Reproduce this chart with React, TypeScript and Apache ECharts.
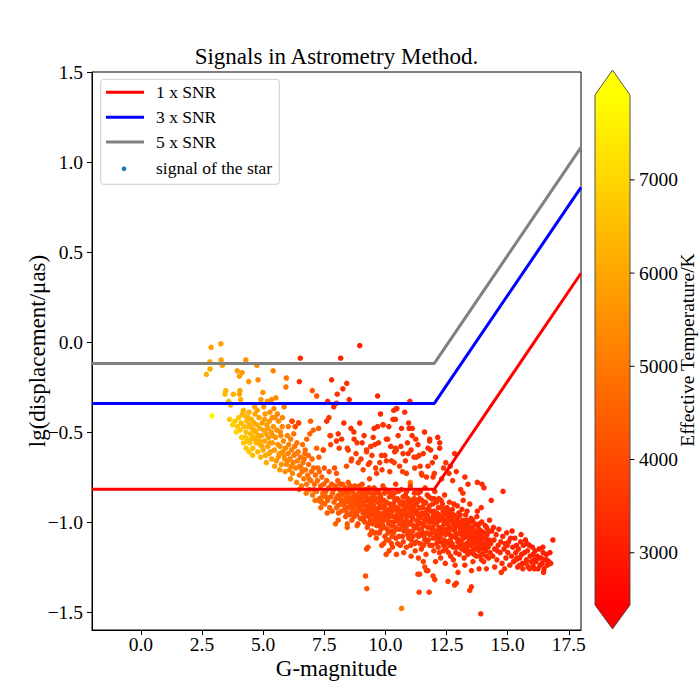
import React, { useEffect, useRef } from "react";
import * as echarts from "echarts";

// ---------- data ----------
// x: G-magnitude, y: lg(displacement/μas), third value: effective temperature (K)
const xTicks = [0, 2.5, 5, 7.5, 10, 12.5, 15, 17.5];
const yTicks = [-1.5, -1.0, -0.5, 0.0, 0.5, 1.0, 1.5];
const tempTicks = [3000, 4000, 5000, 6000, 7000];
const tempMin = 2440;
const tempMax = 7910;

// SNR threshold lines (knee at G = 12)
const lineG = [-2, 12, 18];
const snr1 = [-0.818, -0.818, 0.382];
const snr3 = [-0.341, -0.341, 0.859];
const snr5 = [-0.119, -0.119, 1.081];

const brightBand = [
  [2.87,-0.03,5900],[3.27,-0.01,5800],[2.82,-0.11,6100],[3.28,-0.10,5900],[3.33,-0.13,5900],[2.83,-0.15,6200],[2.68,-0.18,6300],[2.90,-0.41,7700],
  [3.47,-0.27,6300],[3.44,-0.29,6400],[3.59,-0.33,6300],[3.67,-0.35,6200],[3.78,-0.29,6100],[4.05,-0.27,6000],[4.03,-0.29,6000],[4.08,-0.32,6100],[3.63,-0.43,6700],[3.94,-0.16,5800],[4.14,-0.17,5700],[4.03,-0.19,5800],[4.29,-0.10,5600],[4.41,-0.22,5700],[4.74,-0.13,5400],[4.79,-0.21,5500],
  [3.75,-0.46,6900],[3.85,-0.44,6800],[3.95,-0.47,6700],[3.90,-0.50,7000],[4.00,-0.42,6600],[4.05,-0.49,6700],[4.10,-0.45,6500],[4.12,-0.53,6800],[4.19,-0.38,6200],[4.22,-0.47,6500],[4.25,-0.41,6300],[4.30,-0.50,6600],[4.33,-0.44,6400],[4.35,-0.55,6700],[4.40,-0.47,6400],[4.42,-0.39,6200],[4.46,-0.56,6600],[4.48,-0.51,6400],[4.52,-0.43,6200],[4.55,-0.48,6300],[4.58,-0.59,6500],[4.60,-0.53,6300],[4.63,-0.45,6100],[4.67,-0.40,6000],[4.70,-0.50,6200],[4.72,-0.56,6300],[4.75,-0.46,6100],[4.78,-0.61,6400],[4.80,-0.52,6200],[4.83,-0.42,5900],[4.86,-0.48,6000],[4.88,-0.57,6200],[4.91,-0.32,5700],[4.93,-0.52,6000],[4.96,-0.45,5900],[4.99,-0.28,5600],[5.00,-0.60,6100],[5.03,-0.49,5900],[5.06,-0.55,6000],[5.08,-0.40,5800],[5.10,-0.63,6100],[5.12,-0.51,5900],[5.15,-0.46,5800],[5.17,-0.33,5600],[5.19,-0.58,5900],[5.22,-0.53,5800],[5.25,-0.44,5700],[5.28,-0.39,5600],[5.30,-0.61,5900],[5.33,-0.50,5700],[5.35,-0.32,5500],[5.35,-0.65,5900],[5.38,-0.56,5700],[5.41,-0.16,5200],[5.42,-0.47,5600],[5.44,-0.37,5400],[5.46,-0.60,5700],[5.50,-0.53,5600],[5.52,-0.31,5400],[5.54,-0.66,5700],[5.57,-0.49,5500],[5.60,-0.57,5600],[5.63,-0.44,5400],[5.66,-0.62,5600],[5.69,-0.58,5500],[5.72,-0.52,5400],[5.75,-0.68,5600],[5.78,-0.47,5300],[5.80,-0.61,5500],[5.83,-0.55,5400],[5.86,-0.36,5200],[5.88,-0.65,5400],[5.91,-0.59,5400],[5.93,-0.25,5000],[5.95,-0.20,4900],[5.96,-0.68,5400],[5.99,-0.52,5200],[6.02,-0.62,5300],[6.05,-0.57,5200],[6.08,-0.71,5400],[6.10,-0.65,5300],[6.13,-0.54,5100],[6.16,-0.60,5200],[6.18,-0.44,4900],[6.20,-0.73,5300],[6.23,-0.67,5200],[6.26,-0.63,5100],[6.29,-0.58,5000],[6.31,-0.47,4900],[6.33,-0.70,5200],[6.37,-0.78,5300],[6.40,-0.66,5100],[6.43,-0.61,5000],[6.45,-0.45,4800],[6.48,-0.74,5100],[6.50,-0.69,5000],[6.53,-0.64,4900],[6.57,-0.80,5100],[6.60,-0.72,5000],[6.63,-0.67,4900],[6.66,-0.76,5000],[6.70,-0.62,4800],[6.72,-0.60,4700],[6.74,-0.71,4900],[6.78,-0.54,4700],[6.78,-0.79,5000],[6.82,-0.74,4900],[6.86,-0.68,4800],[6.90,-0.82,4900],[6.91,-0.51,4600],[6.94,-0.44,4500],[6.95,-0.77,4800],[6.98,-0.72,4700],[7.01,-0.27,4400],[7.02,-0.85,4900],[7.05,-0.49,4500],[7.06,-0.70,4700],[7.10,-0.79,4800],[7.14,-0.74,4700],[7.18,-0.83,4800],[7.19,-0.30,4300],[7.19,-0.59,4500],[7.22,-0.77,4700],[7.27,-0.48,4400],[7.26,-0.88,4800],[7.30,-0.72,4600],[7.32,-0.87,4700],[7.35,-0.80,4600],[7.39,-0.89,4700],[7.40,-0.75,4500],[7.44,-0.84,4600],[7.46,-0.60,4400],[7.48,-0.79,4500],[7.52,-0.90,4600],[7.56,-0.83,4500],[7.60,-0.77,4400],[7.64,-0.88,4500],[7.68,-0.81,4400],[7.72,-0.92,4500],[7.76,-0.86,4400],[7.80,-0.79,4300],
  [4.15,-0.40,6300],[4.28,-0.53,6700],[4.38,-0.42,6300],[4.45,-0.46,6300],[4.50,-0.54,6500],[4.62,-0.49,6200],[4.68,-0.54,6300],[4.85,-0.55,6200],[4.95,-0.58,6100],[5.05,-0.43,5800],[5.20,-0.48,5800],[5.27,-0.56,5800],[5.40,-0.52,5700],[5.48,-0.42,5500],[5.62,-0.64,5700],[5.70,-0.50,5400],[5.85,-0.63,5500],[6.00,-0.66,5400],[6.15,-0.69,5300],[6.35,-0.62,5100],[6.55,-0.70,5000],[6.68,-0.65,4900],[6.88,-0.76,4900],[7.08,-0.82,4800],[7.24,-0.70,4600],[7.42,-0.86,4700],[7.58,-0.86,4500],
  [4.20,-0.56,6700],[4.31,-0.59,6800],[4.43,-0.61,6700],[4.57,-0.63,6600],[4.65,-0.36,6000],[4.76,-0.38,5900],[4.90,-0.64,6300],[5.02,-0.36,5700],[5.13,-0.67,6100],[5.24,-0.62,6000],[5.37,-0.42,5500],[5.47,-0.69,5900],[5.58,-0.40,5300],[5.68,-0.71,5700],[5.79,-0.42,5200],[5.90,-0.72,5500],[6.03,-0.47,5000],[6.12,-0.76,5400],[6.25,-0.51,4900],[6.38,-0.56,4900],[6.47,-0.82,5200],[6.61,-0.57,4800],[6.76,-0.84,5000],[6.85,-0.63,4700],[7.00,-0.65,4600],[7.12,-0.88,4800],[7.28,-0.64,4500],[7.36,-0.92,4700],[7.50,-0.70,4400],[7.62,-0.95,4500],[7.70,-0.72,4300],[7.82,-0.94,4400],[7.92,-0.70,4200],[8.07,-0.99,4300],
];

const upperScatter = [
  [6.52,-0.09,3300],[8.17,-0.09,3200],[8.95,-0.02,3100],[7.80,-0.21,3300],[8.42,-0.23,3400],[8.26,-0.26,3300],[8.03,-0.29,3400],[6.48,-0.22,3400],[7.64,-0.33,3500],[7.89,-0.36,3500],[8.00,-0.34,3600],[8.52,-0.32,3300],[9.68,-0.30,3300],[10.45,-0.37,3400],[7.60,-0.44,3500],[7.69,-0.42,3600],[6.18,-0.44,4000],[6.31,-0.47,4100],[6.45,-0.45,3900],[8.30,-0.45,3400],[8.07,-0.51,3500],[8.00,-0.55,3600],[7.76,-0.52,3700],[8.21,-0.54,3500],[8.59,-0.48,3400],[8.71,-0.50,3500],[9.05,-0.56,3500],[9.54,-0.48,3400],[9.68,-0.47,3400],[9.91,-0.46,3300],[10.31,-0.43,3400],[9.50,-0.53,3500],[9.23,-0.60,3600],[8.72,-0.54,3500],[8.44,-0.59,3700],[8.11,-0.59,3800],[7.76,-0.57,3900],[7.46,-0.60,4100],
  [11.00,-0.33,3300],[10.34,-0.38,3500],[10.47,-0.37,3400],[10.79,-0.39,3400],[10.41,-0.43,3500],[9.90,-0.46,3500],[10.66,-0.48,3400],[10.97,-0.48,3300],[11.10,-0.48,3400],[10.09,-0.54,3500],[11.09,-0.52,3400],[11.24,-0.54,3500],[11.81,-0.55,3400],[12.14,-0.53,3300],[12.22,-0.56,3300],[12.22,-0.59,3400],[11.85,-0.60,3500],[11.74,-0.59,3400],[10.63,-0.58,3500],[10.41,-0.59,3600],[10.38,-0.61,3500],[10.72,-0.62,3600],[10.93,-0.62,3500],[11.17,-0.64,3600],[11.38,-0.63,3500],[9.84,-0.63,3600],[10.04,-0.66,3700],[10.25,-0.66,3600],[10.36,-0.67,3700],[11.20,-0.70,3700],[11.74,-0.69,3600],[11.92,-0.67,3500],[12.47,-0.67,3500],[12.65,-0.69,3500],[12.83,-0.62,3400],[12.60,-0.73,3500],[13.38,-0.79,3400],[13.76,-0.78,3400],[13.95,-0.79,3400],[14.03,-0.81,3300],[13.08,-0.82,3500],[13.17,-0.84,3500],[14.81,-0.83,3300],[14.33,-0.88,3300],[13.92,-0.92,3400],[13.76,-0.94,3400],[13.45,-0.90,3500],
  [9.00,-0.65,3700],[9.30,-0.68,3800],[8.80,-0.62,3700],[9.60,-0.70,3800],[10.70,-0.72,3800],[11.50,-0.74,3700],[12.00,-0.73,3600],[12.30,-0.76,3600],[12.90,-0.72,3500],[8.60,-0.66,3900],[9.40,-0.58,3600],[10.90,-0.56,3500],[11.60,-0.50,3400],
  [7.73,-0.52,3900],[8.84,-0.56,3600],[9.57,-0.57,3600],[10.04,-0.54,3500],[10.45,-0.60,3600],[11.27,-0.64,3600],[11.81,-0.54,3400],[9.36,-0.67,3700],[9.77,-0.67,3700],[9.98,-0.63,3600],[9.23,-0.61,3700],[8.48,-0.60,3800],[8.62,-0.65,3900],[8.89,-0.67,3900],[9.09,-0.71,3900],[9.64,-0.73,3800],[10.18,-0.72,3800],[10.86,-0.73,3700],[11.47,-0.73,3700],[11.95,-0.75,3600],[8.00,-0.73,4300],[8.41,-0.69,4100],[11.02,-0.78,5000],
  [9.13,-0.52,3500],[9.45,-0.63,3600],[9.72,-0.56,3500],[9.86,-0.71,3700],[10.14,-0.47,3400],[10.22,-0.58,3500],[10.52,-0.52,3500],[10.58,-0.69,3700],[10.82,-0.66,3600],[11.05,-0.60,3500],[11.33,-0.57,3500],[11.42,-0.69,3600],[11.55,-0.62,3500],[11.68,-0.75,3700],[12.05,-0.64,3500],[12.38,-0.70,3500],[12.75,-0.77,3500],[13.25,-0.75,3400],[9.80,-0.40,3300],[10.95,-0.45,3300],[8.95,-0.45,3400],[9.35,-0.76,3900],
];

const mainCloud = [
  [8.05,-0.77,4500],[8.12,-0.82,4400],[8.02,-0.86,4500],[8.18,-0.90,4400],[8.08,-0.95,4300],[8.25,-0.79,4400],[8.30,-0.85,4400],[8.22,-0.88,4300],[8.35,-0.93,4300],[8.38,-0.81,4300],
  [8.45,-0.84,4300],[8.50,-0.89,4200],[8.48,-0.78,4300],[8.55,-0.96,4200],[8.60,-0.82,4200],[8.66,-0.87,4300],[8.70,-0.92,4200],[8.63,-0.99,4200],[8.75,-0.80,4100],[8.80,-0.85,4200],[8.84,-0.90,4100],[8.78,-0.95,4200],[8.88,-1.01,4100],
  [8.93,-0.83,4100],[8.98,-0.88,4100],[9.02,-0.93,4000],[9.05,-0.79,4000],[9.10,-0.86,4100],[9.14,-0.97,4000],[9.18,-0.91,4000],[9.22,-0.82,4000],[9.26,-1.03,4100],[9.30,-0.88,4000],[9.34,-0.94,4000],[9.38,-0.99,3900],[9.42,-0.84,3900],[9.46,-0.90,4000],[9.29,-1.14,4100],[9.23,-1.15,4000],
  [9.50,-0.96,4000],[9.54,-0.81,3900],[9.58,-1.06,4000],[9.62,-0.87,3900],[9.66,-0.93,4000],[9.70,-1.00,3900],[9.74,-0.84,3900],[9.78,-0.90,4000],[9.82,-1.04,3900],[9.86,-0.96,4000],[9.90,-0.80,3800],[9.94,-0.88,3900],[9.98,-1.08,3900],[10.02,-0.93,3900],[10.06,-0.99,4000],[10.03,-1.18,4000],
  [10.10,-0.83,3800],[10.14,-1.10,3900],[10.18,-0.90,3900],[10.22,-0.96,3900],[10.26,-1.02,3800],[10.30,-0.86,3800],[10.34,-1.06,3900],[10.38,-0.93,3900],[10.42,-0.79,3700],[10.46,-0.99,3800],[10.50,-1.12,3900],[10.54,-0.88,3800],[10.58,-1.04,3800],[10.62,-0.95,3900],[10.66,-0.82,3700],[10.70,-1.08,3800],
  [10.74,-0.91,3800],[10.78,-1.00,3800],[10.82,-0.85,3700],[10.86,-1.14,3900],[10.90,-0.97,3800],[10.94,-1.05,3800],[10.98,-0.89,3700],[11.02,-0.80,3700],[11.06,-1.10,3800],[11.10,-0.94,3800],[11.14,-1.02,3700],[11.18,-0.87,3700],[11.22,-1.16,3800],[11.26,-0.99,3800],[11.30,-1.07,3700],
  [11.34,-0.84,3600],[11.38,-0.92,3700],[11.42,-1.12,3800],[11.46,-1.01,3700],[11.50,-0.88,3600],[11.54,-0.96,3700],[11.58,-1.08,3700],[11.62,-0.81,3600],[11.66,-1.18,3800],[11.70,-0.93,3700],[11.74,-1.03,3600],[11.78,-0.86,3600],[11.82,-1.13,3700],[11.86,-0.98,3700],[11.90,-1.06,3600],
  [11.94,-0.90,3600],[11.98,-1.16,3700],[12.02,-0.83,3500],[12.06,-1.01,3600],[12.10,-0.95,3600],[12.14,-1.10,3700],[12.18,-0.87,3500],[12.22,-1.04,3600],[12.26,-1.20,3700],[12.30,-0.92,3600],[12.34,-0.98,3600],[12.38,-1.13,3600],[12.42,-0.85,3500],[12.46,-1.07,3600],
  [12.50,-0.96,3600],[12.54,-1.01,3500],[12.58,-1.17,3600],[12.62,-0.89,3500],[12.66,-1.10,3600],[12.70,-1.04,3500],[12.74,-0.93,3500],[12.78,-1.21,3600],[12.82,-0.99,3500],[12.86,-1.14,3600],[12.90,-1.07,3500],[12.94,-0.91,3500],[12.98,-1.02,3500],[13.02,-1.18,3600],
  [13.06,-0.96,3500],[13.10,-1.11,3500],[13.14,-1.05,3500],[13.18,-0.88,3400],[13.22,-1.20,3600],[13.26,-1.00,3500],[13.30,-1.14,3500],[13.34,-0.94,3400],[13.38,-1.08,3500],[13.42,-1.03,3500],[13.46,-1.17,3500],[13.50,-0.98,3400],[13.54,-1.12,3500],[13.58,-1.22,3600],[13.62,-1.06,3400],
  [13.66,-1.01,3400],[13.70,-1.15,3500],[13.74,-0.97,3400],[13.78,-1.10,3400],[13.82,-1.04,3400],[13.86,-1.19,3500],[13.90,-1.08,3400],[13.94,-1.00,3400],[13.98,-1.13,3400],[14.02,-1.22,3500],[14.06,-1.06,3400],[14.10,-1.16,3400],[14.14,-1.03,3300],[14.18,-1.11,3400],[14.22,-1.20,3400],[14.26,-0.99,3300],
];

const faintTail = [
  [14.31,-1.12,3400],[14.35,-1.05,3300],[14.39,-1.19,3400],[14.44,-1.10,3300],[14.47,-1.15,3300],[14.53,-1.07,3300],[14.56,-1.21,3400],[14.61,-1.13,3300],[14.64,-1.04,3300],[14.69,-1.17,3300],[14.72,-1.11,3300],[14.77,-1.23,3400],[14.80,-1.08,3300],[14.85,-1.15,3300],[14.89,-1.12,3300],[14.93,-1.20,3300],[14.96,-1.06,3300],[15.01,-1.17,3300],[15.04,-1.11,3300],[15.09,-1.24,3300],[15.12,-1.09,3200],[15.16,-1.19,3300],[15.21,-1.14,3200],[15.24,-1.22,3300],[15.29,-1.09,3200],[15.33,-1.17,3200],[15.36,-1.13,3200],[15.41,-1.25,3300],[15.44,-1.15,3200],[15.49,-1.20,3200],[15.53,-1.11,3200],[15.57,-1.18,3200],[15.61,-1.23,3200],[15.64,-1.13,3200],[15.69,-1.17,3200],[15.73,-1.10,3100],[15.77,-1.21,3200],[15.81,-1.16,3200],[15.84,-1.25,3200],[15.89,-1.13,3100],[15.92,-1.19,3200],[15.97,-1.22,3200],[16.01,-1.14,3100],[16.04,-1.18,3100],[16.08,-1.21,3200],[16.12,-1.16,3100],[16.16,-1.22,3100],[16.21,-1.19,3100],[16.24,-1.26,3200],[16.29,-1.15,3100],[16.33,-1.24,3100],[16.37,-1.20,3100],[16.41,-1.23,3100],[16.45,-1.17,3100],[16.49,-1.26,3100],[16.53,-1.21,3100],[16.58,-1.18,3100],[16.62,-1.24,3100],[16.68,-1.22,3100],[16.73,-1.17,3100],
  [14.42,-1.03,3300],[14.58,-1.16,3300],[14.98,-1.13,3300],[15.18,-1.05,3200],[15.38,-1.20,3200],[15.55,-1.07,3200],[15.79,-1.12,3100],[16.05,-1.25,3100],[16.27,-1.20,3100],[16.44,-1.14,3100],[16.60,-1.21,3100],[16.85,-1.10,3100],[16.76,-1.23,3100],
];

const coreFill = [
  [7.84,-0.84,4500],[7.90,-0.89,4500],[7.96,-0.80,4400],[8.00,-0.92,4500],[8.10,-0.85,4400],[8.15,-0.79,4300],[8.20,-0.94,4400],[8.28,-0.82,4300],[8.33,-0.89,4300],[8.40,-0.87,4300],[8.43,-0.95,4300],[8.56,-0.80,4200],[8.62,-0.90,4200],
  [8.52,-0.86,4300],[8.58,-0.92,4200],[8.68,-0.84,4200],[8.72,-0.97,4100],[8.82,-0.88,4100],[8.86,-0.94,4100],[8.95,-0.86,4100],[8.97,-0.98,4000],[9.04,-0.89,4000],[9.08,-0.95,4100],[9.12,-0.82,4000],[9.16,-1.00,4000],[9.20,-0.88,3900],[9.24,-0.95,4000],[9.28,-0.84,3900],[9.32,-1.01,4000],[9.36,-0.90,3900],[9.40,-0.96,3900],[9.44,-1.05,4000],[9.48,-0.86,3900],[9.52,-0.91,3900],[9.56,-0.98,4000],[9.60,-0.84,3800],[9.64,-1.02,3900],[9.68,-0.89,3900],[9.72,-0.95,3900],[9.76,-1.06,3900],[9.80,-0.86,3800],[9.84,-0.92,3900],[9.88,-1.01,3900],[9.92,-0.95,3800],[9.96,-0.84,3800],[10.00,-0.98,3900],[10.04,-0.89,3800],[10.08,-1.04,3900],[10.12,-0.94,3800],[10.16,-0.86,3800],[10.20,-1.00,3800],[10.24,-0.91,3800],[10.28,-1.08,3900],[10.32,-0.97,3800],[10.36,-0.84,3700],[10.40,-1.03,3800],[10.44,-0.92,3800],[10.48,-0.87,3700],[10.52,-0.98,3800],[10.56,-1.08,3800],[10.60,-0.90,3700],[10.64,-1.01,3800],[10.68,-0.94,3800],[10.72,-0.86,3700],[10.76,-1.05,3800],[10.80,-0.96,3700],[10.84,-0.90,3700],[10.88,-1.02,3800],[10.92,-0.87,3700],[10.96,-1.09,3800],[11.00,-0.95,3700],[11.04,-1.00,3700],[11.08,-0.88,3600],[11.12,-1.05,3700],[11.16,-0.93,3700],[11.20,-1.12,3800],[11.24,-0.90,3600],[11.28,-1.02,3700],[11.32,-0.96,3700],[11.36,-1.08,3700],[11.40,-0.87,3600],[11.44,-0.97,3600],[11.48,-1.04,3700],[11.52,-0.92,3600],[11.56,-1.13,3700],[11.60,-0.99,3600],[11.64,-0.89,3600],[11.68,-1.06,3700],[11.72,-0.96,3600],[11.76,-1.10,3700],[11.80,-0.91,3600],[11.84,-1.03,3600],[11.88,-0.87,3500],[11.92,-0.99,3600],[11.96,-1.09,3600],[12.00,-0.94,3600],[12.04,-1.05,3600],[12.08,-0.89,3500],[12.12,-1.00,3600],[12.16,-1.14,3600],[12.20,-0.96,3500],[12.24,-1.08,3600],[12.28,-0.88,3500],[12.32,-1.03,3600],[12.36,-0.94,3500],[12.40,-1.10,3600],[12.44,-0.99,3500],[12.48,-1.15,3600],[12.52,-0.92,3500],[12.56,-1.06,3500],[12.60,-0.98,3500],[12.64,-1.13,3600],[12.68,-0.95,3500],[12.72,-1.08,3500],[12.76,-1.01,3500],[12.80,-0.90,3400],[12.84,-1.05,3500],[12.88,-1.17,3500],[12.92,-0.98,3500],[12.96,-1.11,3500],[13.00,-0.95,3400],[13.04,-1.06,3500],[13.08,-1.01,3400],[13.12,-1.15,3500],[13.16,-0.99,3400],[13.20,-1.09,3500],[13.24,-1.04,3400],[13.28,-0.96,3400],[13.32,-1.12,3500],[13.36,-1.02,3400],[13.40,-1.16,3500],[13.44,-1.06,3400],[13.48,-1.00,3400],[13.52,-1.09,3400],[13.56,-1.03,3400],[13.60,-1.15,3400],[13.64,-1.10,3400],[13.68,-1.05,3400],[13.72,-1.19,3500],[13.76,-1.07,3400],[13.80,-1.12,3400],[13.84,-1.01,3300],[13.88,-1.14,3400],[13.92,-1.05,3300],[13.96,-1.18,3400],[14.00,-1.09,3400],[14.04,-1.12,3400],[14.08,-1.02,3300],[14.12,-1.19,3400],[14.16,-1.07,3300],[14.20,-1.14,3300],[14.24,-1.10,3300],[14.28,-1.17,3300],
];

const coreExtra = [
  [8.37,-0.97,4300],[8.53,-0.83,4300],[8.64,-0.94,4200],[8.71,-0.81,4200],[8.77,-0.89,4100],[8.91,-0.92,4100],[8.94,-0.80,4000],[9.07,-0.84,4000],[9.11,-0.99,4000],[9.19,-0.86,4000],[9.27,-0.92,3900],[9.33,-0.81,3900],[9.37,-1.07,4000],[9.43,-0.93,3900],[9.49,-1.01,3900],[9.53,-0.88,3900],[9.61,-0.95,3900],[9.63,-1.09,4000],[9.69,-0.83,3800],[9.73,-0.98,3900],[9.79,-1.02,3900],[9.83,-0.88,3800],[9.89,-0.99,3900],[9.93,-1.12,3900],[9.97,-0.91,3800],[10.01,-0.82,3800],[10.07,-0.95,3800],[10.11,-1.06,3900],[10.17,-0.97,3800],[10.21,-0.84,3700],[10.27,-0.94,3800],[10.29,-1.14,3900],[10.35,-1.00,3800],[10.39,-0.88,3800],[10.43,-1.09,3800],[10.49,-0.95,3800],[10.53,-0.83,3700],[10.57,-1.01,3800],[10.61,-1.13,3800],[10.67,-0.97,3700],[10.69,-0.89,3700],[10.73,-1.11,3800],[10.79,-0.93,3700],[10.81,-1.03,3800],[10.87,-0.83,3600],[10.91,-1.07,3800],[10.95,-0.92,3700],[10.99,-1.01,3700],[11.03,-1.13,3800],[11.07,-0.91,3700],[11.11,-0.98,3700],[11.13,-1.08,3700],[11.19,-0.84,3600],[11.23,-0.95,3600],[11.27,-1.11,3700],[11.31,-0.89,3600],[11.37,-1.04,3700],[11.39,-0.98,3600],[11.43,-0.83,3500],[11.47,-1.15,3700],[11.51,-1.06,3600],[11.57,-0.90,3600],[11.59,-1.02,3600],[11.63,-0.95,3600],[11.69,-1.11,3700],[11.71,-0.85,3500],[11.77,-1.00,3600],[11.81,-1.07,3600],[11.87,-0.94,3500],[11.91,-1.13,3600],[11.93,-1.03,3600],[11.99,-0.87,3500],[12.03,-0.97,3500],[12.09,-1.12,3600],[12.11,-1.06,3600],[12.17,-0.92,3500],[12.21,-1.17,3600],[12.23,-0.99,3500],[12.29,-1.06,3500],[12.33,-0.90,3500],[12.37,-1.16,3600],[12.39,-1.01,3500],[12.43,-0.93,3500],[12.49,-1.04,3500],[12.53,-1.11,3500],[12.57,-0.94,3500],[12.61,-1.03,3500],[12.67,-1.19,3500],[12.69,-0.99,3400],[12.73,-1.12,3500],[12.79,-0.96,3400],[12.83,-1.08,3500],[12.87,-1.02,3400],[12.93,-1.14,3500],[12.99,-0.97,3400],[13.03,-1.10,3400],[13.07,-1.04,3400],[13.13,-0.93,3400],[13.17,-1.13,3500],[13.21,-1.02,3400],[13.27,-1.07,3400],[13.31,-0.99,3400],[13.37,-1.18,3500],[13.39,-1.05,3400],[13.43,-1.11,3400],[13.49,-1.04,3400],[13.53,-1.17,3400],[13.57,-0.99,3300],[13.61,-1.12,3400],[13.67,-1.08,3400],[13.73,-1.13,3400],[13.77,-1.02,3300],[13.83,-1.16,3400],[13.87,-1.10,3300],[13.93,-1.21,3400],[13.97,-1.06,3300],
];

const denseFill = [
  [7.88,-0.82,4500],[7.98,-0.87,4400],[8.06,-0.91,4400],[8.14,-0.87,4300],[8.24,-0.84,4300],[8.32,-0.91,4300],[8.41,-0.83,4200],[8.47,-0.92,4200],[8.57,-0.88,4200],[8.67,-0.91,4100],[8.74,-0.86,4100],[8.83,-0.96,4100],[8.90,-0.87,4000],[9.00,-0.91,4000],[9.09,-0.89,4000],[9.17,-0.94,3900],[9.25,-0.87,3900],[9.31,-0.97,3900],[9.39,-0.87,3900],[9.47,-0.94,3900],[9.55,-0.92,3900],[9.59,-1.00,3900],[9.67,-0.97,3800],[9.75,-0.92,3800],[9.81,-0.98,3800],[9.87,-0.91,3800],[9.95,-1.03,3800],[10.05,-0.96,3800],[10.13,-1.01,3800],[10.19,-0.93,3800],[10.25,-1.05,3800],[10.33,-0.90,3700],[10.41,-0.97,3700],[10.47,-1.04,3800],[10.55,-0.93,3700],[10.63,-0.98,3700],[10.71,-1.02,3700],[10.77,-0.89,3700],[10.85,-0.99,3700],[10.93,-0.95,3700],[11.01,-1.06,3700],[11.09,-0.97,3600],[11.15,-0.91,3600],[11.21,-1.03,3600],[11.29,-0.94,3600],[11.35,-1.00,3600],[11.41,-1.07,3600],[11.49,-0.95,3600],[11.55,-1.01,3600],[11.61,-1.10,3600],[11.67,-0.98,3600],[11.75,-0.93,3500],[11.83,-1.06,3600],[11.89,-1.00,3500],[11.97,-0.96,3500],[12.07,-1.08,3500],[12.13,-0.98,3500],[12.19,-1.03,3500],[12.27,-1.11,3500],[12.35,-1.05,3500],[12.41,-0.96,3500],[12.47,-1.12,3500],[12.55,-0.99,3500],[12.63,-1.07,3500],[12.71,-0.97,3400],[12.77,-1.14,3500],[12.85,-1.03,3400],[12.91,-1.09,3400],[12.97,-1.00,3400],[13.05,-1.13,3400],[13.11,-1.07,3400],[13.19,-1.02,3400],[13.25,-1.16,3400],[13.33,-1.06,3400],[13.41,-1.09,3400],[13.47,-1.13,3400],[13.55,-1.07,3400],[13.63,-1.18,3400],[13.71,-1.09,3300],[13.79,-1.15,3300],[13.85,-1.06,3300],[13.91,-1.12,3300],[14.01,-1.15,3300],[14.09,-1.09,3300],[14.15,-1.13,3300],[14.23,-1.05,3300],
  [9.85,-1.13,3900],[10.15,-1.16,3900],[10.45,-1.18,3900],[10.75,-1.17,3800],[11.05,-1.19,3800],[11.35,-1.20,3800],[11.55,-1.22,3800],[12.05,-1.22,3700],[12.45,-1.23,3600],[12.85,-1.24,3600],[13.25,-1.24,3500],
];

const faintOutliers = [
  [9.19,-1.30,4200],[9.24,-1.37,4300],[10.66,-1.48,5000],[13.90,-1.51,3400],[7.96,-1.01,4500],[8.44,-1.01,4400],[8.44,-1.03,4300],[8.84,-1.02,4200],[9.57,-1.06,4100],[9.70,-1.06,4000],[10.04,-1.10,4000],[10.25,-1.12,3900],[11.33,-1.29,3800],[11.61,-1.25,3900],[11.68,-1.27,3800],[11.95,-1.30,3800],[12.02,-1.32,3700],[11.79,-1.39,3800],[11.38,-1.39,3900],[11.40,-1.29,3800],[11.74,-1.27,3800],[12.56,-1.33,3700],[12.97,-1.28,3600],[13.52,-1.27,3600],[13.52,-1.36,3500],[13.45,-1.38,3600],[12.90,-1.34,3600],[12.83,-1.35,3600],[13.83,-1.26,3500],[14.13,-1.26,3500],[14.47,-1.25,3500],[14.74,-1.28,3500],[14.87,-1.26,3400],[15.35,-1.21,3400],[15.49,-1.24,3400],[15.62,-1.26,3400],[15.76,-1.23,3400],[15.90,-1.26,3400],[16.03,-1.23,3300],[16.10,-1.26,3300],[16.47,-1.28,3300],[16.74,-1.23,3300],[7.39,-0.89,4600],[7.32,-0.87,4700],
];

// ---------- layout ----------
const FONT = '"Liberation Serif", "Times New Roman", Times, serif';
const GRID = { left: 92, right: 119, top: 72, bottom: 70 };
const CB = { x: 595, w: 35, top: 95, bottom: 605, tip: 25 };

const fmt = (v: number) => (v < 0 ? "\u2212" + Math.abs(v).toFixed(1) : v.toFixed(1));

function txt(x: number, y: number, text: string, size: number, align = "center", rotation = 0, z = 20) {
  return {
    type: "text",
    x,
    y,
    z,
    rotation,
    silent: true,
    style: {
      text,
      fill: "#000",
      font: `${size}px ${FONT}`,
      align,
      verticalAlign: "middle",
      textAlign: align,
      textVerticalAlign: "middle",
    },
  };
}

export default function App() {
  const ref = useRef<HTMLDivElement>(null);

  useEffect(() => {
    if (!ref.current) return;
    const chart = echarts.init(ref.current, undefined, { renderer: "svg" });

    const stars = [
      ...brightBand, ...upperScatter, ...mainCloud, ...coreFill, ...coreExtra,
      ...denseFill, ...faintTail, ...faintOutliers,
    ];
    const mk = (ys: number[]) => lineG.map((g, i) => [g, ys[i]]);

    const cbY = (t: number) => CB.bottom - ((t - tempMin) / (tempMax - tempMin)) * (CB.bottom - CB.top);
    const cx = CB.x + CB.w / 2;

    const plotCx = GRID.left + (700 - GRID.left - GRID.right) / 2;
    const plotCy = GRID.top + (700 - GRID.top - GRID.bottom) / 2;

    const legend: any[] = [
      {
        type: "rect",
        silent: true,
        z: 30,
        shape: { x: 100.7, y: 79.3, width: 178.6, height: 105, r: 3 },
        style: { fill: "rgba(255,255,255,0.8)", stroke: "#cccccc", lineWidth: 1 },
      },
    ];
    const legendRows = [
      { y: 92.3, color: "#ff0000", label: "1 x SNR" },
      { y: 117.3, color: "#0000ff", label: "3 x SNR" },
      { y: 142, color: "#808080", label: "5 x SNR" },
    ];
    legendRows.forEach((r) => {
      legend.push({
        type: "line",
        silent: true,
        z: 31,
        shape: { x1: 106, y1: r.y, x2: 144, y2: r.y },
        style: { stroke: r.color, lineWidth: 3 },
      });
      legend.push(txt(156, r.y, r.label, 17.5, "left", 0, 31));
    });
    legend.push({
      type: "circle",
      silent: true,
      z: 31,
      shape: { cx: 124, cy: 168.7, r: 2.3 },
      style: { fill: "#1f77b4" },
    });
    legend.push(txt(156, 168, "signal of the star", 17.5, "left", 0, 31));

    const cbTicks: any[] = [];
    tempTicks.forEach((t) => {
      const y = cbY(t);
      cbTicks.push({
        type: "line",
        silent: true,
        shape: { x1: CB.x + CB.w, y1: y, x2: CB.x + CB.w + 4.5, y2: y },
        style: { stroke: "#000", lineWidth: 1 },
      });
      cbTicks.push(txt(CB.x + CB.w + 4.5 + 4.5, y, String(t), 19.5, "left"));
    });

    const option: any = {
      animation: false,
      backgroundColor: "#ffffff",
      grid: {
        ...GRID,
        show: true,
        borderColor: "#000",
        borderWidth: 1,
        backgroundColor: "transparent",
      },
      xAxis: {
        type: "value",
        min: -2,
        max: 18,
        axisLine: { show: true, onZero: false, lineStyle: { color: "#000", width: 1 } },
        axisTick: { show: true, inside: false, length: 5, lineStyle: { color: "#000", width: 1 }, customValues: xTicks },
        axisLabel: {
          customValues: xTicks,
          formatter: (v: number) => fmt(v),
          color: "#000",
          fontFamily: FONT,
          fontSize: 19.5,
          margin: 4,
        },
        splitLine: { show: false },
      },
      yAxis: {
        type: "value",
        min: -1.6,
        max: 1.5,
        axisLine: { show: true, onZero: false, lineStyle: { color: "#000", width: 1 } },
        axisTick: { show: true, inside: false, length: 5, lineStyle: { color: "#000", width: 1 }, customValues: yTicks },
        axisLabel: {
          customValues: yTicks,
          formatter: (v: number) => fmt(v),
          color: "#000",
          fontFamily: FONT,
          fontSize: 19.5,
          margin: 9,
        },
        splitLine: { show: false },
      },
      visualMap: {
        show: false,
        type: "continuous",
        seriesIndex: 0,
        dimension: 2,
        min: tempMin,
        max: tempMax,
        inRange: { color: ["#ff0000", "#ffff00"] },
      },
      series: [
        {
          type: "scatter",
          data: stars,
          symbol: "circle",
          symbolSize: 5.5,
          itemStyle: { opacity: 1, borderWidth: 0 },
          silent: true,
          z: 2,
        },
        {
          type: "line",
          data: mk(snr1),
          showSymbol: false,
          lineStyle: { color: "#ff0000", width: 3 },
          itemStyle: { color: "#ff0000" },
          silent: true,
          z: 3,
        },
        {
          type: "line",
          data: mk(snr3),
          showSymbol: false,
          lineStyle: { color: "#0000ff", width: 3 },
          itemStyle: { color: "#0000ff" },
          silent: true,
          z: 3,
        },
        {
          type: "line",
          data: mk(snr5),
          showSymbol: false,
          lineStyle: { color: "#808080", width: 3 },
          itemStyle: { color: "#808080" },
          silent: true,
          z: 3,
        },
      ],
      graphic: [
        txt(plotCx, 56, "Signals in Astrometry Method.", 23),
        txt(plotCx, 668, "G-magnitude", 23),
        txt(37, plotCy, "lg(displacement/\u03bcas)", 23, "center", Math.PI / 2),
        ...legend,
        // colorbar
        {
          type: "rect",
          silent: true,
          shape: { x: CB.x, y: CB.top, width: CB.w, height: CB.bottom - CB.top },
          style: {
            fill: new echarts.graphic.LinearGradient(0, 0, 0, 1, [
              { offset: 0, color: "#ffff00" },
              { offset: 1, color: "#ff0000" },
            ]),
          },
        },
        {
          type: "polygon",
          silent: true,
          shape: { points: [[CB.x, CB.top], [cx, CB.top - CB.tip], [CB.x + CB.w, CB.top]] },
          style: { fill: "#ffff00" },
        },
        {
          type: "polygon",
          silent: true,
          shape: { points: [[CB.x, CB.bottom], [cx, CB.bottom + CB.tip - 1], [CB.x + CB.w, CB.bottom]] },
          style: { fill: "#ff0000" },
        },
        {
          type: "polygon",
          silent: true,
          shape: {
            points: [
              [CB.x, CB.top],
              [cx, CB.top - CB.tip],
              [CB.x + CB.w, CB.top],
              [CB.x + CB.w, CB.bottom],
              [cx, CB.bottom + CB.tip - 1],
              [CB.x, CB.bottom],
            ],
          },
          style: { fill: "none", stroke: "#444", lineWidth: 0.9 },
        },
        ...cbTicks,
        txt(687, (CB.top + CB.bottom) / 2, "Effective Temperature/K", 19.5, "center", Math.PI / 2),
      ],
    };

    chart.setOption(option);
    return () => chart.dispose();
  }, []);

  return (
    <div
      ref={ref}
      style={{ position: "fixed", left: 0, top: 0, width: 700, height: 700, background: "#fff" }}
    />
  );
}
